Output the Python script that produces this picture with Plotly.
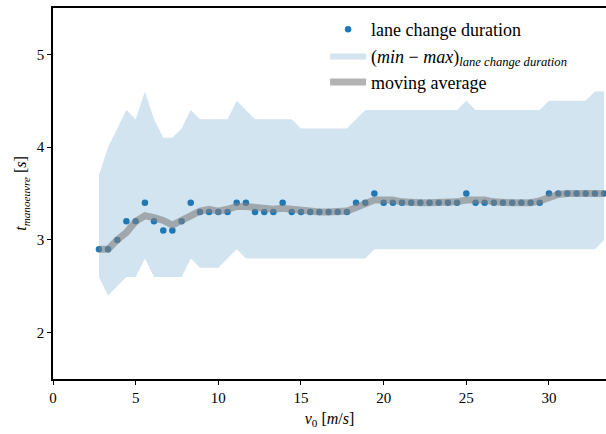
import plotly.graph_objects as go

# speeds v0 [m/s]
v0 = [2.78, 3.33, 3.89, 4.44, 5.00, 5.56, 6.11, 6.67, 7.22, 7.78,
      8.33, 8.89, 9.44, 10.00, 10.56, 11.11, 11.67, 12.22, 12.78, 13.33,
      13.89, 14.44, 15.00, 15.56, 16.11, 16.67, 17.22, 17.78, 18.33, 18.89,
      19.44, 20.00, 20.56, 21.11, 21.67, 22.22, 22.78, 23.33, 23.89, 24.44,
      25.00, 25.56, 26.11, 26.67, 27.22, 27.78, 28.33, 28.89, 29.44, 30.00,
      30.56, 31.11, 31.67, 32.22, 32.78, 33.33]

# lane change duration [s]
duration = [2.9, 2.9, 3.0, 3.2, 3.2, 3.4, 3.2, 3.1, 3.1, 3.2,
            3.4, 3.3, 3.3, 3.3, 3.3, 3.4, 3.4, 3.3, 3.3, 3.3,
            3.4, 3.3, 3.3, 3.3, 3.3, 3.3, 3.3, 3.3, 3.4, 3.4,
            3.5, 3.4, 3.4, 3.4, 3.4, 3.4, 3.4, 3.4, 3.4, 3.4,
            3.5, 3.4, 3.4, 3.4, 3.4, 3.4, 3.4, 3.4, 3.4, 3.5,
            3.5, 3.5, 3.5, 3.5, 3.5, 3.5]

duration_max = [3.7, 4.0, 4.2, 4.4, 4.3, 4.6, 4.3, 4.1, 4.1, 4.2,
                4.4, 4.3, 4.3, 4.3, 4.3, 4.5, 4.4, 4.3, 4.3, 4.3,
                4.3, 4.3, 4.2, 4.2, 4.2, 4.2, 4.2, 4.2, 4.3, 4.4,
                4.4, 4.4, 4.4, 4.4, 4.4, 4.4, 4.4, 4.4, 4.4, 4.4,
                4.5, 4.4, 4.4, 4.4, 4.4, 4.4, 4.4, 4.4, 4.4, 4.5,
                4.5, 4.5, 4.5, 4.5, 4.6, 4.6]

duration_min = [2.6, 2.4, 2.5, 2.6, 2.6, 2.8, 2.6, 2.6, 2.6, 2.6,
                2.8, 2.7, 2.7, 2.7, 2.8, 2.9, 2.8, 2.8, 2.8, 2.8,
                2.8, 2.8, 2.8, 2.8, 2.8, 2.8, 2.8, 2.8, 2.8, 2.8,
                2.9, 2.9, 2.9, 2.9, 2.9, 2.9, 2.9, 2.9, 2.9, 2.9,
                2.9, 2.9, 2.9, 2.9, 2.9, 2.9, 2.9, 2.9, 2.9, 2.9,
                2.9, 2.9, 2.9, 2.9, 2.9, 3.0]

moving_avg = [2.90, 2.90, 3.00, 3.08, 3.20, 3.26, 3.24, 3.21, 3.16, 3.21,
              3.27, 3.31, 3.33, 3.31, 3.33, 3.36, 3.36, 3.35, 3.33, 3.33,
              3.34, 3.33, 3.32, 3.30, 3.30, 3.30, 3.30, 3.31, 3.35, 3.39,
              3.43, 3.43, 3.43, 3.41, 3.40, 3.40, 3.40, 3.40, 3.40, 3.41,
              3.43, 3.43, 3.43, 3.41, 3.40, 3.40, 3.40, 3.40, 3.42, 3.46,
              3.49, 3.50, 3.50, 3.50, 3.50, 3.50]

x_ticks = [0, 5, 10, 15, 20, 25, 30]
y_ticks = [2, 3, 4, 5]

FONT = "Liberation Serif"

fig = go.Figure()

fig.add_trace(go.Scatter(
    x=v0 + v0[::-1],
    y=duration_max + duration_min[::-1],
    fill="toself",
    fillcolor="rgb(210,228,240)",
    mode="lines",
    line=dict(width=0, color="rgb(210,228,240)"),
    name="(<i>min</i> − <i>max</i>)<sub><i>lane change duration</i></sub>",
    legendrank=2,
    hoverinfo="skip",
))

fig.add_trace(go.Scatter(
    x=v0, y=duration,
    mode="markers",
    marker=dict(size=6.5, color="#1f77b4"),
    name="lane change duration",
    legendrank=1,
))

fig.add_trace(go.Scatter(
    x=v0, y=moving_avg,
    mode="lines",
    line=dict(width=7, color="rgba(128,128,128,0.6)"),
    name="moving average",
    legendrank=3,
))

fig.update_layout(
    width=606, height=434,
    margin=dict(l=53, r=0, t=8, b=55),
    paper_bgcolor="white",
    plot_bgcolor="white",
    font=dict(family=FONT, size=15, color="black"),
    showlegend=True,
    legend=dict(
        x=0.492, y=0.992, xanchor="left", yanchor="top",
        bgcolor="rgba(0,0,0,0)",
        font=dict(family=FONT, size=18, color="black"),
        tracegroupgap=0,
        itemwidth=36,
    ),
    xaxis=dict(
        range=[0, 33.45],
        tickvals=x_ticks,
        ticktext=[str(t) for t in x_ticks],
        showgrid=False, zeroline=False,
        showline=True, linecolor="black", linewidth=1.5,
        mirror=True,
        ticks="outside", ticklen=4, tickwidth=1, tickcolor="black",
        title=dict(text="<i>v</i><sub>0</sub> [<i>m</i>/<i>s</i>]", standoff=8,
                   font=dict(family=FONT, size=16)),
    ),
    yaxis=dict(
        range=[1.5, 5.5],
        tickvals=y_ticks,
        ticktext=[str(t) for t in y_ticks],
        showgrid=False, zeroline=False,
        showline=True, linecolor="black", linewidth=1.5,
        ticks="outside", ticklen=4, tickwidth=1, tickcolor="black",
        title=dict(text="<i>t</i><sub><i>manoeuvre</i></sub> [<i>s</i>]", standoff=6,
                   font=dict(family=FONT, size=16)),
    ),
)

fig.write_html("out.html", config={"displayModeBar": False},
               post_script="document.body.style.margin='0';")
